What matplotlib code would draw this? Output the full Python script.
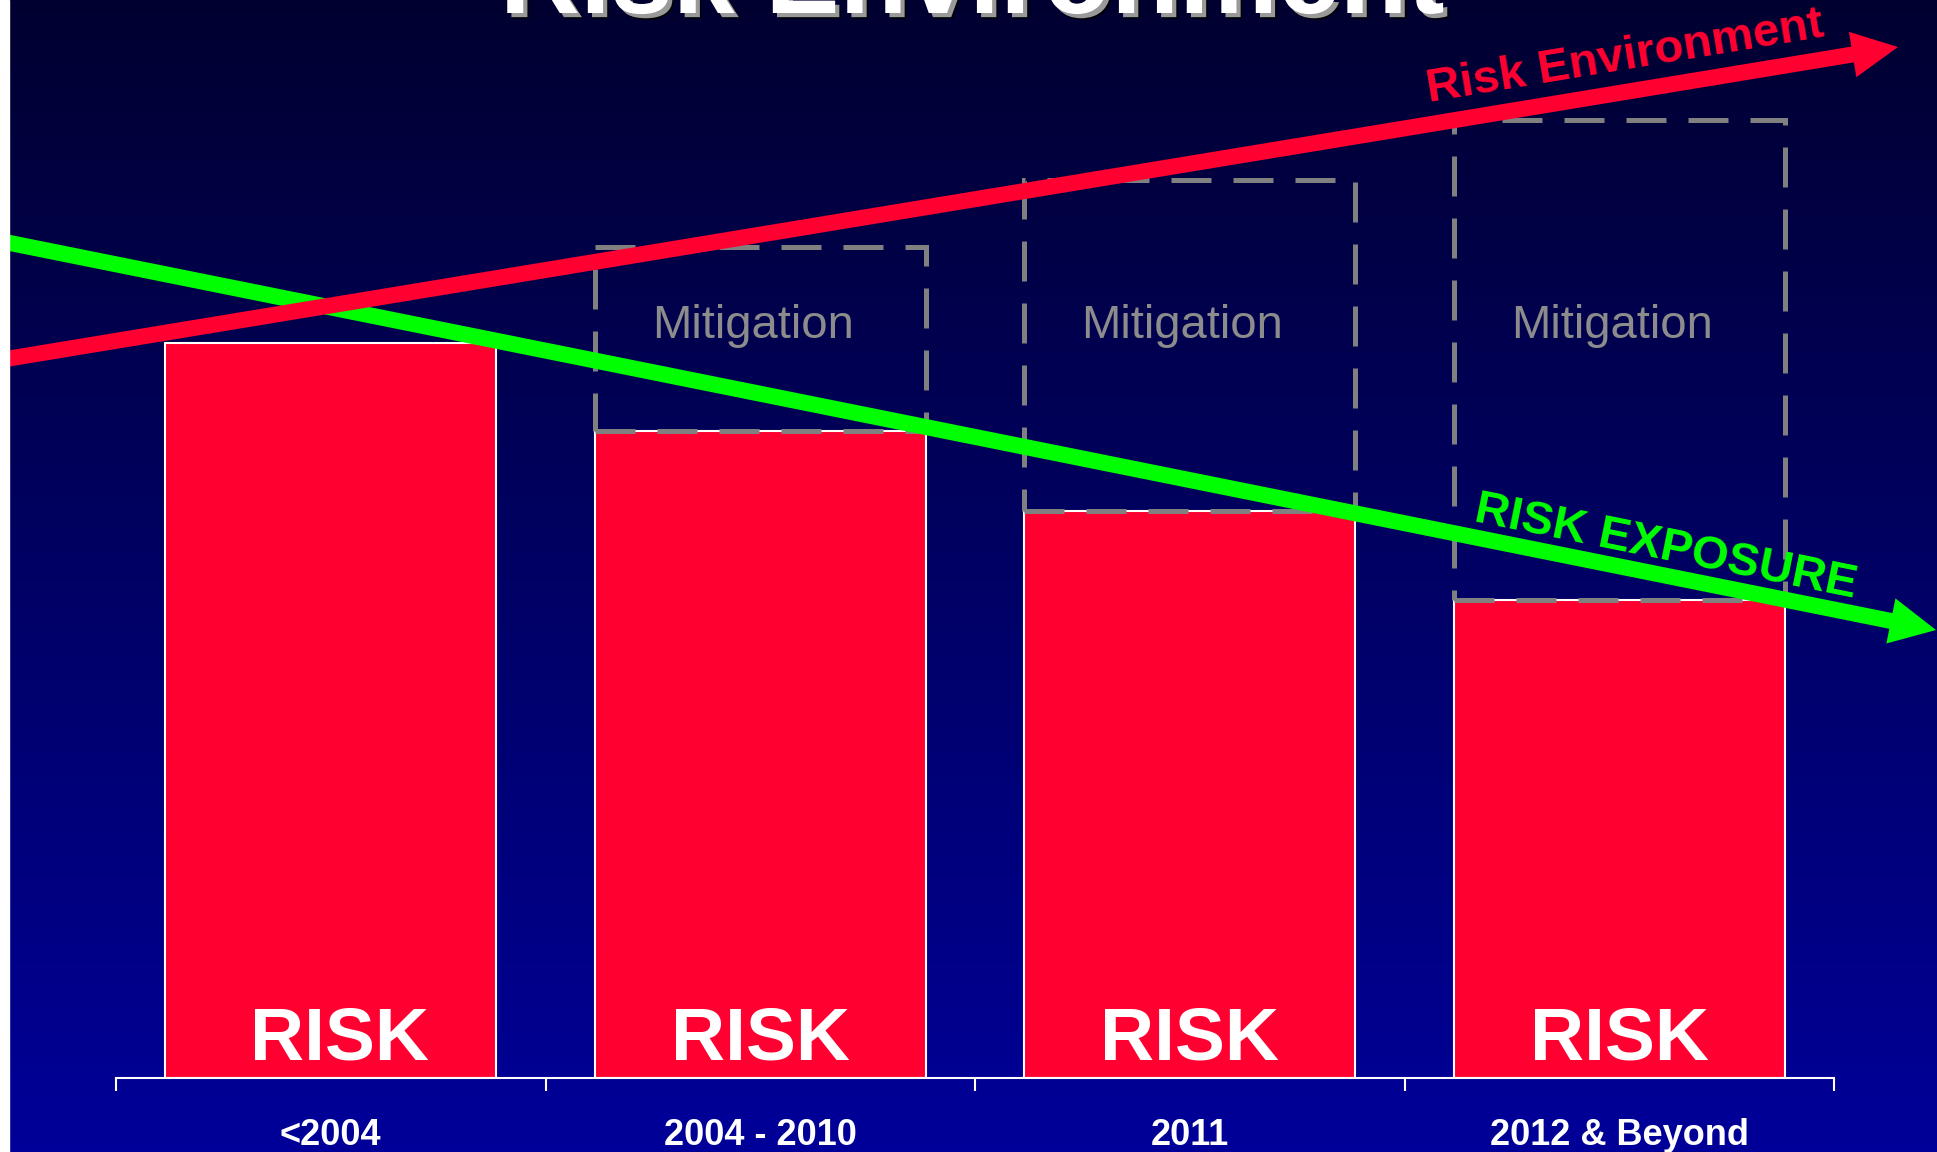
import matplotlib
matplotlib.use('Agg')
import numpy as np
import matplotlib.pyplot as plt
import matplotlib.patheffects as pe
from matplotlib.patches import FancyArrow, Rectangle

plt.rcParams['font.family'] = ['Liberation Sans', 'DejaVu Sans']

# data
periods = ['<2004', '2004 - 2010', '2011', '2012 & Beyond']
risk = [59.5, 52.4, 45.9, 38.7]
mitigation = [0, 14.9, 26.8, 38.9]

# trend arrows (pixel coords of tail and tip)
env_arrow = [(0, 360), (1898, 47)]
exp_arrow = [(0, 241), (1936, 630)]

red = '#FF0030'
green = '#00FF00'
grey = '#8C8C8C'

W, H = 1937, 1152
fig = plt.figure(figsize=(W / 100, H / 100), dpi=100)

# gradient background
bg = fig.add_axes([0, 0, 1, 1])
grad = np.linspace(0, 1, 256).reshape(-1, 1)
top = np.array([0, 0, 48]) / 255
bot = np.array([0, 0, 153]) / 255
img = top + (bot - top) * grad[:, :, None]
bg.imshow(img, aspect='auto', extent=[0, 1, 0, 1], origin='upper')
bg.axis('off')

ax = fig.add_axes([116 / W, (H - 1078) / H, (1834 - 116) / W, 1078 / H])
ax.set_facecolor('none')
x = np.arange(len(periods))
ax.bar(x, risk, width=0.77, color=red, edgecolor='white', linewidth=1.5, zorder=2)
mx = [i for i in x if mitigation[i] > 0]
ax.bar(mx, [mitigation[i] for i in mx], bottom=[risk[i] for i in mx], width=0.77,
       fill=False, edgecolor='#808080', linewidth=3.6, linestyle=(0, (8, 4.4)), zorder=3)
for i in mx:
    ax.text(i - 0.017, 60.9, 'Mitigation', ha='center', va='center', fontsize=34, color=grey)
for i in x:
    dx = 0.02 if i == 0 else 0
    ax.text(i + dx, 1.5, 'RISK', ha='center', va='baseline', fontsize=54,
            fontweight='bold', color='white', zorder=4)

ax.set_xlim(-0.5, 3.5)
ax.set_ylim(0, 87.3)
ax.set_xticks(x)
ax.set_xticklabels(periods, fontsize=26, fontweight='bold', color='white')
ax.set_xticks(np.arange(-0.5, 4, 1), minor=True)
ax.tick_params(axis='x', which='major', length=0, pad=29)
ax.tick_params(axis='x', which='minor', length=9.5, width=1.5, color='white')
ax.set_yticks([])
for s in ['top', 'left', 'right']:
    ax.spines[s].set_visible(False)
ax.spines['bottom'].set_color('white')
ax.spines['bottom'].set_linewidth(1.5)

# overlay in pixel coords for arrows and titles
ov = fig.add_axes([0, 0, 1, 1])
ov.set_xlim(0, W)
ov.set_ylim(H, 0)
ov.axis('off')
ov.patch.set_alpha(0)

for (p0, p1), c in [(exp_arrow, green), (env_arrow, red)]:
    ov.add_patch(FancyArrow(p0[0], p0[1], p1[0] - p0[0], p1[1] - p0[1], width=16,
                            head_width=46, head_length=46, length_includes_head=True,
                            color=c, linewidth=0))

ov.text(1625, 57, 'Risk Environment', color=red, fontsize=34, fontweight='bold',
        rotation=9.4, rotation_mode='anchor', ha='center', va='center')
ov.text(1666, 548, 'RISK EXPOSURE', color=green, fontsize=34, fontweight='bold',
        rotation=-11.4, rotation_mode='anchor', ha='center', va='center')

ov.text(972, 13, 'Risk Environment', color='white', fontsize=80, fontweight='bold',
        ha='center', va='baseline',
        path_effects=[pe.SimplePatchShadow(offset=(4, -4), shadow_rgbFace='black', alpha=1),
                      pe.SimplePatchShadow(offset=(3, -3), shadow_rgbFace='#999999', alpha=1),
                      pe.Normal()])

ov.add_patch(Rectangle((0, 0), 9, H, color='white', zorder=10))

fig.savefig('out.png', dpi=100)
